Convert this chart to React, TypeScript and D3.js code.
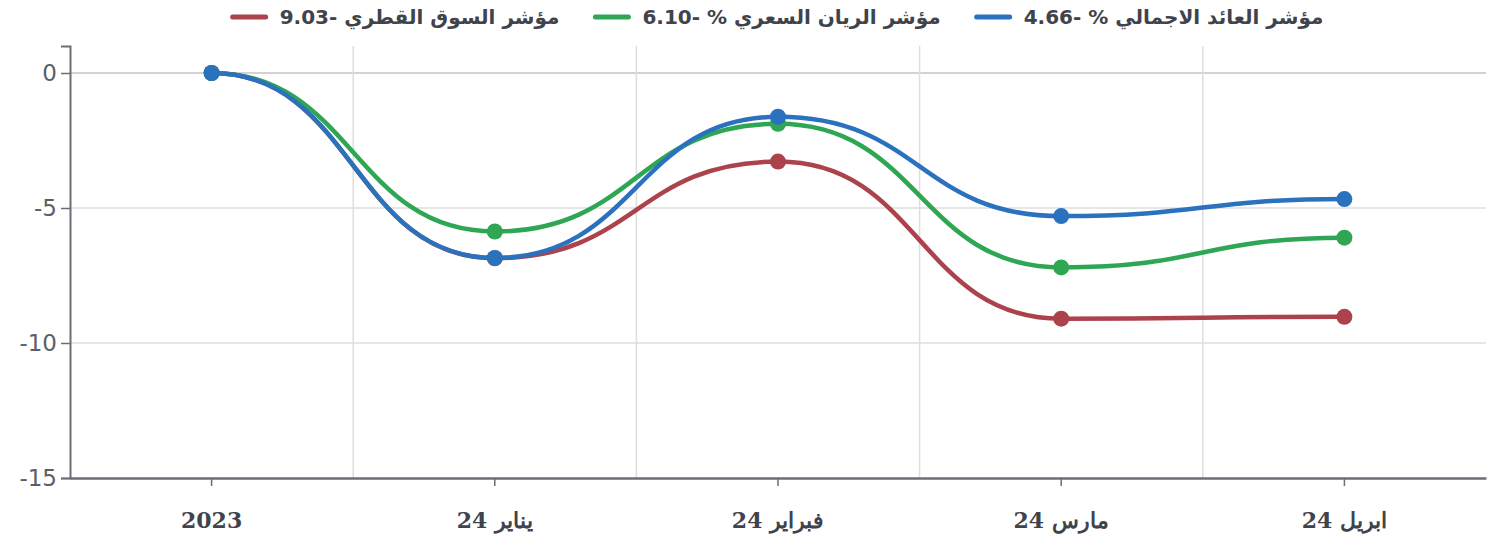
import { useEffect, useRef } from 'react';
import * as d3 from 'd3';

const categories = ['2023', 'يناير 24', 'فبراير 24', 'مارس 24', 'ابريل 24'];
const seriesNames = ['مؤشر العائد الاجمالي % -4.66', 'مؤشر الريان السعري % -6.10', 'مؤشر السوق القطري -9.03'];
const seriesColors = ['#2a72bd', '#2ea653', '#ac424b'];
const totalReturn = [0, -6.85, -1.62, -5.3, -4.67];
const rayanPrice = [0, -5.87, -1.88, -7.2, -6.1];
const qatarMarket = [0, -6.86, -3.28, -9.1, -9.03];
const yTicks = [0, -5, -10, -15];

const W = 1499;
const H = 544;
const margin = { top: 46, right: 13, bottom: 66, left: 70 };

export default function App() {
  const svgRef = useRef<SVGSVGElement>(null);

  useEffect(() => {
    const svg = d3.select(svgRef.current);
    svg.selectAll('*').remove();

    const allSeries = [totalReturn, rayanPrice, qatarMarket];
    const x = d3.scaleBand().domain(categories).range([margin.left, W - margin.right]).padding(0);
    const y = d3.scaleLinear().domain([-15, 1]).range([H - margin.bottom, margin.top]);
    const cx = (c: string) => (x(c) ?? 0) + x.bandwidth() / 2;

    const sans = '"DejaVu Sans", sans-serif';
    const serif = '"DejaVu Serif", serif';

    // horizontal grid
    svg.append('g')
      .selectAll('line')
      .data(yTicks.slice(0, 3))
      .join('line')
      .attr('x1', margin.left)
      .attr('x2', W - margin.right)
      .attr('y1', (d) => y(d))
      .attr('y2', (d) => y(d))
      .attr('stroke', (d) => (d === 0 ? '#c4c4c4' : '#dedede'))
      .attr('stroke-width', 1.5);

    // vertical grid at band boundaries
    svg.append('g')
      .selectAll('line')
      .data(categories.slice(1))
      .join('line')
      .attr('x1', (d) => x(d) ?? 0)
      .attr('x2', (d) => x(d) ?? 0)
      .attr('y1', y(1))
      .attr('y2', y(-15))
      .attr('stroke', '#dedede')
      .attr('stroke-width', 1.5);

    // y axis
    const yAxis = svg.append('g')
      .attr('transform', `translate(${margin.left},0)`)
      .call(d3.axisLeft(y).tickValues(yTicks).tickSize(9).tickPadding(4).tickFormat((d) => String(d)));
    yAxis.select('.domain').attr('stroke', '#6b6e76').attr('stroke-width', 2);
    yAxis.selectAll('.tick line').attr('stroke', '#6b6e76').attr('stroke-width', 1.5);
    yAxis.selectAll('.tick text')
      .attr('fill', '#5a5f68')
      .style('font-family', sans)
      .style('font-size', '23px');

    // x axis
    const xAxis = svg.append('g')
      .attr('transform', `translate(0,${H - margin.bottom})`)
      .call(d3.axisBottom(x).tickSize(8).tickPadding(26).tickSizeOuter(0));
    xAxis.select('.domain').attr('stroke', '#6b6e76').attr('stroke-width', 2.5);
    xAxis.selectAll('.tick line').attr('stroke', '#6b6e76').attr('stroke-width', 1.5);
    xAxis.selectAll('.tick text')
      .attr('fill', '#3f434b')
      .style('font-family', serif)
      .style('font-size', '22px')
      .style('font-weight', 'bold');

    const line = d3.line<number>()
      .x((_, i) => cx(categories[i]))
      .y((d) => y(d))
      .curve(d3.curveBumpX);

    // draw red first, blue last
    [2, 1, 0].forEach((si) => {
      const g = svg.append('g');
      g.append('path')
        .attr('d', line(allSeries[si]))
        .attr('fill', 'none')
        .attr('stroke', seriesColors[si])
        .attr('stroke-width', 4.5);
      g.selectAll('circle')
        .data(allSeries[si])
        .join('circle')
        .attr('cx', (_, i) => cx(categories[i]))
        .attr('cy', (d) => y(d))
        .attr('r', 8)
        .attr('fill', seriesColors[si]);
    });

    // legend, laid out right to left
    const legend = svg.append('g');
    const items = seriesNames.map((name, i) => {
      const g = legend.append('g');
      g.append('line')
        .attr('x1', 0).attr('x2', 33)
        .attr('y1', 17).attr('y2', 17)
        .attr('stroke', seriesColors[i])
        .attr('stroke-width', 5)
        .attr('stroke-linecap', 'round');
      const t = g.append('text')
        .attr('x', 47)
        .attr('y', 24)
        .attr('fill', '#3f434b')
        .style('font-family', sans)
        .style('font-size', '20px')
        .style('font-weight', 'bold')
        .text(name);
      const w = (t.node() as SVGTextElement).getComputedTextLength();
      return { g, w: 47 + w };
    });
    const gap = 36;
    const total = d3.sum(items, (d) => d.w) + gap * (items.length - 1);
    const center = (margin.left + W - margin.right) / 2;
    let right = center + total / 2;
    items.forEach((it) => {
      it.g.attr('transform', `translate(${right - it.w},0)`);
      right -= it.w + gap;
    });
  }, []);

  return (
    <svg
      ref={svgRef}
      width={W}
      height={H}
      style={{ position: 'absolute', left: 0, top: 0, background: '#fff' }}
    />
  );
}
